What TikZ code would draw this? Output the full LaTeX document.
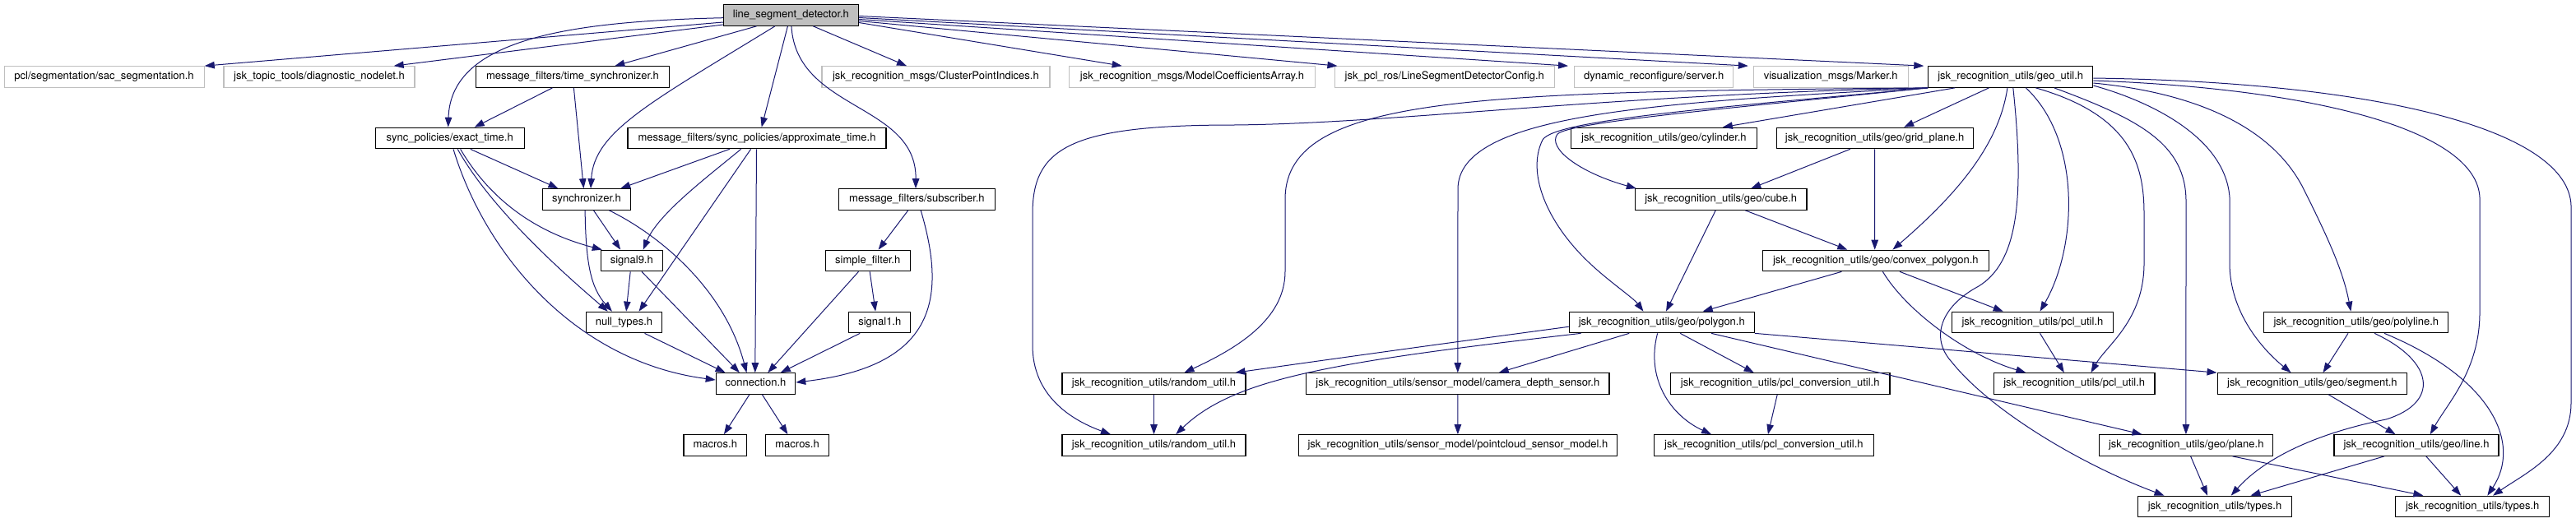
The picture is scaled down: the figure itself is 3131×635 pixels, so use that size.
\documentclass[tikz,border=0pt]{standalone}
\usepackage{fontspec}
\setmainfont{TeX Gyre Heros}
\usetikzlibrary{arrows.meta}

\definecolor{edgeblue}{RGB}{25,25,112}
\definecolor{grey75}{RGB}{191,191,191}

\tikzset{
  file/.style={draw=black, line width=1.2pt, fill=white, minimum height=25.5pt,
    inner xsep=2pt, inner ysep=0pt, text height=9.4pt, text depth=2.7pt,
    font=\fontsize{13}{15}\selectfont},
  extfile/.style={file, draw=grey75},
  rootfile/.style={file, fill=grey75},
  dep/.style={draw=edgeblue, line width=1pt, -{Triangle[length=12pt,width=8.5pt]}}
}

\begin{document}
\begin{tikzpicture}[x=1pt, y=-1pt]
    \useasboundingbox (0,0) rectangle (3131,635);

    % files
    \node[rootfile, minimum width=164] (lsd) at (961.4,18.5) {line\_segment\_detector.h};

    \node[extfile, minimum width=243] (sac) at (126.6,93.5) {pcl/segmentation/sac\_segmentation.h};
    \node[extfile, minimum width=232] (diag) at (388,93.5) {jsk\_topic\_tools/diagnostic\_nodelet.h};
    \node[file, minimum width=235] (timesync) at (696,93.5) {message\_filters/time\_synchronizer.h};
    \node[extfile, minimum width=277] (cluster) at (1137.4,93.5) {jsk\_recognition\_msgs/ClusterPointIndices.h};
    \node[extfile, minimum width=299] (modelcoef) at (1449,93.5) {jsk\_recognition\_msgs/ModelCoefficientsArray.h};
    \node[extfile, minimum width=267] (config) at (1755.8,93.5) {jsk\_pcl\_ros/LineSegmentDetectorConfig.h};
    \node[extfile, minimum width=193] (server) at (2010.3,93.5) {dynamic\_reconfigure/server.h};
    \node[extfile, minimum width=188] (marker) at (2225.2,93.5) {visualization\_msgs/Marker.h};
    \node[file, minimum width=200] (geoutil) at (2443.7,93.5) {jsk\_recognition\_utils/geo\_util.h};

    \node[file, minimum width=181] (exact) at (546.7,168) {sync\_policies/exact\_time.h};
    \node[file, minimum width=314] (approx) at (920,168) {message\_filters/sync\_policies/approximate\_time.h};
    \node[file, minimum width=225.5] (cylinder) at (2022.4,168) {jsk\_recognition\_utils/geo/cylinder.h};
    \node[file, minimum width=239] (gridplane) at (2278.6,168) {jsk\_recognition\_utils/geo/grid\_plane.h};

    \node[file, minimum width=107] (sync) at (713,242.5) {synchronizer.h};
    \node[file, minimum width=190] (subscriber) at (1114.4,242.5) {message\_filters/subscriber.h};
    \node[file, minimum width=208.6] (cube) at (2091.7,242.5) {jsk\_recognition\_utils/geo/cube.h};

    \node[file, minimum width=75] (signal9) at (767.8,317) {signal9.h};
    \node[file, minimum width=103] (simplefilter) at (1054.7,317) {simple\_filter.h};
    \node[file, minimum width=275] (convex) at (2279.8,317) {jsk\_recognition\_utils/geo/convex\_polygon.h};

    \node[file, minimum width=92.6] (nulltypes) at (758.5,392) {null\_types.h};
    \node[file, minimum width=75] (signal1) at (1069.3,392) {signal1.h};
    \node[file, minimum width=225] (polygon) at (2019.8,392) {jsk\_recognition\_utils/geo/polygon.h};
    \node[file, minimum width=196] (pclutilA) at (2470.4,392) {jsk\_recognition\_utils/pcl\_util.h};
    \node[file, minimum width=224] (polyline) at (2863.8,392) {jsk\_recognition\_utils/geo/polyline.h};

    \node[file, minimum width=96.4] (connection) at (918.5,466.5) {connection.h};
    \node[file, minimum width=223] (randomA) at (1402.5,466.5) {jsk\_recognition\_utils/random\_util.h};
    \node[file, minimum width=368.4] (camdepth) at (1771.8,466.5) {jsk\_recognition\_utils/sensor\_model/camera\_depth\_sensor.h};
    \node[file, minimum width=266.6] (pclconvA) at (2163.7,466.5) {jsk\_recognition\_utils/pcl\_conversion\_util.h};
    \node[file, minimum width=195.6] (pclutilB) at (2521.2,466.5) {jsk\_recognition\_utils/pcl\_util.h};
    \node[file, minimum width=230.6] (segment) at (2810.4,466.5) {jsk\_recognition\_utils/geo/segment.h};

    \node[file, minimum width=76.5] (macrosA) at (869.3,541.5) {macros.h};
    \node[file, minimum width=76.5] (macrosB) at (969.1,541.5) {macros.h};
    \node[file, minimum width=223] (randomB) at (1402.5,541.5) {jsk\_recognition\_utils/random\_util.h};
    \node[file, minimum width=387] (pointcloud) at (1771.9,541.5) {jsk\_recognition\_utils/sensor\_model/pointcloud\_sensor\_model.h};
    \node[file, minimum width=266.8] (pclconvB) at (2143.9,541.5) {jsk\_recognition\_utils/pcl\_conversion\_util.h};
    \node[file, minimum width=210.7] (plane) at (2657.2,541.5) {jsk\_recognition\_utils/geo/plane.h};
    \node[file, minimum width=200] (geoline) at (2937,541.5) {jsk\_recognition\_utils/geo/line.h};

    \node[file, minimum width=186.5] (typesA) at (2692,616) {jsk\_recognition\_utils/types.h};
    \node[file, minimum width=187.3] (typesB) at (3005.2,616) {jsk\_recognition\_utils/types.h};

    % straight includes, bottom of one box to top of the next
    \foreach \src/\sx/\dst/\dx in {
        lsd/-41.9/timesync/51.3, lsd/-4/approx/5.7, lsd/27/cluster/-35.4,
        timesync/-24.5/exact/30, timesync/1.4/sync/-3.6,
        exact/25/sync/-34.6, approx/-33.2/sync/41.2, approx/-7.4/nulltypes/18.1,
        approx/-0.5/connection/-0.7,
        sync/8.5/signal9/-13.6, signal9/-1.6/nulltypes/2.6, signal9/12.2/connection/-19.7,
        nulltypes/25/connection/-36.9,
        subscriber/-10.7/simplefilter/12.9, simplefilter/-11.2/connection/14.8,
        simplefilter/2.5/signal1/-5.2, signal1/-24.1/connection/30.3,
        connection/-7.6/macrosA/10.6, connection/7.9/macrosB/-11.7,
        geoutil/-67.5/cylinder/71.4, geoutil/-26.2/gridplane/35.6,
        gridplane/-29.8/cube/36.5, gridplane/0.1/convex/-1.1,
        cube/-6.5/polygon/5.2, cube/29.6/convex/-34.5,
        convex/-41.4/polygon/49.9, convex/29.2/pclutilA/-35.7, pclutilA/9.1/pclutilB/-12.4,
        polygon/-39.6/camdepth/49.9, polygon/22.4/pclconvA/-32, polygon/60.2/plane/-53.7,
        randomA/0/randomB/0, camdepth/0/pointcloud/0, pclconvA/-3.5/pclconvB/5,
        polyline/-9.8/segment/13.1, segment/19.8/geoline/-25.5,
        plane/5.4/typesA/-9, plane/56.2/typesB/-59.8,
        geoline/-39/typesA/43.4, geoline/11.8/typesB/-14.1}
        \draw[dep] ([xshift=\sx]\src.south) -- ([xshift=\dx]\dst.north);

    % long ones leaving the root sideways
    \foreach \dy/\dst/\dx in {-9/modelcoef/-85.3, -7/config/-130.4, -5/server/-104.3,
        -3/marker/-100.4, -1/geoutil/-105.4}
        \draw[dep] ([yshift=\dy]lsd.east) -- ([xshift=\dx]\dst.north);
    \draw[dep] ([yshift=-8.5]lsd.west) -- (sac.north east);
    \draw[dep] ([yshift=-11.5]lsd.west) -- ([xshift=90.7]diag.north);

    % curved includes, left part
    \draw[dep] ([yshift=-3.2]lsd.west) .. controls (700,26) and (548,45) .. ([xshift=-2]exact.north);
    \draw[dep] ([xshift=-19.5]lsd.south) .. controls (790,125) and (722,160) .. ([xshift=5]sync.north);
    \draw[dep] ([xshift=0.5]lsd.south) .. controls (968,135) and (1114,125) .. ([xshift=-1.4]subscriber.north);
    \draw[dep] ([xshift=12.9]exact.south) .. controls (600,250) and (660,285) .. ([xshift=-36]signal9.north);
    \draw[dep] ([xshift=9.5]exact.south) .. controls (600,260) and (700,345) .. ([xshift=-19.8]nulltypes.north);
    \draw[dep] ([xshift=4.3]exact.south) .. controls (590,310) and (700,440) .. ([yshift=4.5]connection.west);
    \draw[dep] ([xshift=-19.4]approx.south) .. controls (860,215) and (800,260) .. ([xshift=13.9]signal9.north);
    \draw[dep] ([xshift=-1.9]sync.south) .. controls (712,320) and (718,350) .. ([xshift=-14.6]nulltypes.north);
    \draw[dep] ([xshift=27.4]sync.south) .. controls (800,285) and (880,350) .. ([xshift=-11]connection.north);
    \draw[dep] ([xshift=4.8]subscriber.south) .. controls (1150,360) and (1140,445) .. ([yshift=1.5]connection.east);

    % curved includes, geo_util
    \draw[dep] ([xshift=-3.8]geoutil.south) .. controls (2430,175) and (2380,235) .. ([xshift=20.6]convex.north);
    \draw[dep] ([xshift=3.1]geoutil.south) .. controls (2462,250) and (2450,320) .. (2405,348)
        .. controls (2360,372) and (2345,410) .. (2372,440)
        .. controls (2420,500) and (2530,565) .. ([xshift=-61.5]typesA.north);
    \draw[dep] ([xshift=18.6]geoutil.south) .. controls (2530,170) and (2525,300) .. ([xshift=9.1]pclutilA.north);
    \draw[dep] ([xshift=30.6]geoutil.south) .. controls (2590,140) and (2606,200) .. (2606,260) -- (2606,320)
        .. controls (2606,390) and (2560,420) .. ([xshift=20.3]pclutilB.north);
    \draw[dep] ([xshift=53]geoutil.south) .. controls (2600,145) and (2657,175) .. (2657,245) -- ([xshift=-0.3]plane.north);
    \draw[dep] ([yshift=-10.5]geoutil.east) .. controls (2620,125) and (2705,170) .. (2710,240) -- (2710,320)
        .. controls (2710,380) and (2750,425) .. ([xshift=-25.9]segment.north);
    \draw[dep] ([yshift=-7.5]geoutil.east) .. controls (2660,112) and (2760,150) .. (2800,230)
        .. controls (2830,290) and (2848,330) .. ([xshift=-6.5]polyline.north);
    \draw[dep] ([yshift=-4.5]geoutil.east) .. controls (2820,108) and (3010,160) .. (3014,240) -- (3014,380)
        .. controls (3014,450) and (2975,490) .. ([xshift=16.8]geoline.north);
    \draw[dep] ([yshift=-1.5]geoutil.east) .. controls (2900,100) and (3122,160) .. (3125,250) -- (3125,490)
        .. controls (3125,550) and (3070,575) .. ([xshift=24.8]typesB.north);
    \draw[dep] (geoutil.south west) .. controls (2100,132) and (1910,148) .. (1893,163)
        .. controls (1880,180) and (1920,210) .. ([xshift=-102.9]cube.north);
    \draw[dep] ([xshift=0.5]geoutil.south west) .. controls (2100,130) and (1890,145) .. (1875,170)
        .. controls (1855,210) and (1880,270) .. (1930,318)
        .. controls (1955,342) and (1985,362) .. ([xshift=-22.4]polygon.north);
    \draw[dep] (geoutil.south west) .. controls (2000,125) and (1772,140) .. (1772,230) -- (camdepth.north);
    \draw[dep] (geoutil.south west) .. controls (1800,112) and (1565,115) .. (1562,240) -- (1562,330)
        .. controls (1562,390) and (1500,425) .. ([xshift=37]randomA.north);
    \draw[dep] (geoutil.south west) .. controls (1950,115) and (1700,150) .. (1500,152)
        .. controls (1300,152) and (1255,180) .. (1255,260) -- (1255,420)
        .. controls (1255,480) and (1300,510) .. ([xshift=-52.5]randomB.north);

    % curved includes, lower right
    \draw[dep] ([yshift=-5.3]polygon.west) .. controls (1700,425) and (1560,445) .. ([xshift=99]randomA.north);
    \draw[dep] ([xshift=-98.2]polygon.south) .. controls (1620,440) and (1500,460) .. ([xshift=26.7]randomB.north);
    \draw[dep] ([xshift=-5.2]polygon.south) .. controls (2000,460) and (2030,505) .. ([xshift=-63.9]pclconvB.north);
    \draw[dep] (polygon.south east) -- (segment.north west);
    \draw[dep] ([xshift=8.6]convex.south) .. controls (2315,375) and (2385,430) .. ([xshift=-58.9]pclutilB.north);
    \draw[dep] ([xshift=22.3]polyline.south) .. controls (2960,440) and (2965,490) .. (2900,510)
        .. controls (2800,530) and (2745,565) .. ([xshift=19.7]typesA.north);
    \draw[dep] ([xshift=34.2]polyline.south) .. controls (3030,460) and (3065,540) .. ([xshift=18.1]typesB.north);
\end{tikzpicture}
\end{document}
